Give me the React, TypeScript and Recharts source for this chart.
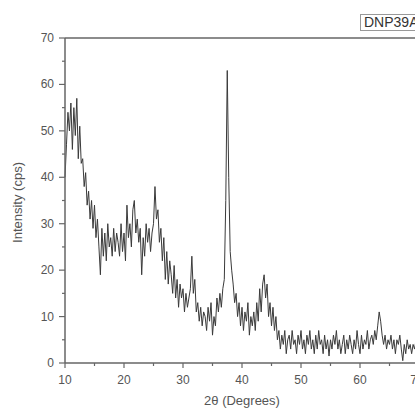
import { LineChart, Line, XAxis, YAxis, ReferenceLine } from "recharts";

// XRD scan, sampled every 0.25 degree from 10 degrees
const startAngle = 10;
const stepAngle = 0.25;

const intensity = [
  40, 47, 54, 50, 56, 46, 55, 49, 57, 44, 51, 43, // 10-12.75
  44, 38, 41, 34, 37, 31, 35, 29, 34, 27, 31, 25, // 13-15.75
  19, 29, 23, 28, 22, 30, 25, 27, 23, 29, 24, 28, // 16-18.75
  26, 23, 30, 24, 28, 22, 34, 27, 30, 25, 33, 35, // 19-21.75
  28, 31, 26, 29, 19, 27, 23, 30, 26, 29, 24, 28, // 22-24.75
  30, 38, 31, 33, 26, 29, 22, 27, 18, 24, 17, 22, // 25-27.75
  19, 15, 21, 14, 18, 12, 17, 14, 16, 11, 15, 12, // 28-30.75
  14, 16, 23, 15, 18, 11, 13, 9, 12, 8, 11, 10, // 31-33.75
  7, 12, 9, 13, 6, 10, 8, 14, 11, 15, 12, 16, // 34-36.75
  18, 35, 63, 40, 24, 20, 17, 13, 15, 10, 13, 8, // 37-39.75
  12, 7, 11, 9, 13, 6, 10, 8, 11, 7, 13, 9, // 40-42.75
  16, 11, 17, 19, 14, 17, 10, 13, 8, 12, 7, 10, // 43-45.75
  5, 7, 3, 6, 4, 7, 2, 5, 6, 3, 7, 4, // 46-48.75
  5, 2, 6, 4, 7, 3, 5, 2, 6, 4, 7, 3, // 49-51.75
  5, 2, 6, 3, 7, 4, 5, 2, 6, 3, 5, 1.5, // 52-54.75
  5, 3, 6, 4, 7, 3, 5, 2, 4, 6, 2, 5, // 55-57.75
  3, 6, 4, 2, 5, 3, 7, 4, 2, 6, 3, 5, // 58-60.75
  4, 7, 3, 5, 6, 4, 7, 5, 8, 11, 9, 6, // 61-63.75
  4, 6, 3, 5, 4, 6, 3, 5, 2, 5, 4, 6, // 64-66.75
  3, 0.5, 4, 2, 5, 3, 4, 2, 4, 3, 5, 3, // 67-69.75
];

const xTicks = [10, 15, 20, 25, 30, 35, 40, 45, 50, 55, 60, 65, 70];
const yTicks = [0, 5, 10, 15, 20, 25, 30, 35, 40, 45, 50, 55, 60, 65, 70];
const sampleName = "DNP39A";

const data = intensity.map((v, i) => ({ angle: startAngle + i * stepAngle, cps: v }));

const font = "'Liberation Sans', Arial, sans-serif";
const axisColor = "#666";
const labelColor = "#555";

function XTick(props: any) {
  const { x, y, payload } = props;
  const major = payload.value % 10 === 0;
  return (
    <g>
      <line x1={x} x2={x} y1={y} y2={y + (major ? 5 : 3)} stroke={axisColor} strokeWidth={1.2} />
      {major && (
        <text x={x} y={y + 21} textAnchor="middle" fontSize={12} fill={labelColor} fontFamily={font}>
          {payload.value}
        </text>
      )}
    </g>
  );
}

function YTick(props: any) {
  const { x, y, payload } = props;
  const major = payload.value % 10 === 0;
  return (
    <g>
      <line x1={x - (major ? 6 : 3)} x2={x} y1={y} y2={y} stroke={axisColor} strokeWidth={1.2} />
      {major && (
        <text x={x - 11} y={y + 4} textAnchor="end" fontSize={12} fill={labelColor} fontFamily={font}>
          {payload.value}
        </text>
      )}
    </g>
  );
}

export default function App() {
  return (
    <div
      style={{
        position: "absolute",
        left: 0,
        top: 0,
        width: 415,
        height: 409,
        overflow: "hidden",
        background: "#fff",
      }}
    >
      <LineChart width={425} height={409} data={data} margin={{ top: 38, right: 6, bottom: 0, left: 0 }}>
        <XAxis
          dataKey="angle"
          type="number"
          domain={[10, 70]}
          ticks={xTicks}
          tick={<XTick />}
          tickSize={0}
          tickMargin={0}
          tickLine={false}
          height={46}
          stroke={axisColor}
          strokeWidth={1.5}
          label={{
            content: ({ viewBox }: any) => (
              <text
                x={viewBox.x + viewBox.width / 2}
                y={viewBox.y + 42}
                textAnchor="middle"
                fontSize={13}
                fill={labelColor}
                fontFamily={font}
              >
                2θ (Degrees)
              </text>
            ),
          }}
        />
        <YAxis
          type="number"
          domain={[0, 70]}
          ticks={yTicks}
          tick={<YTick />}
          tickSize={0}
          tickMargin={0}
          tickLine={false}
          width={65}
          stroke={axisColor}
          strokeWidth={1.5}
          label={{
            content: ({ viewBox }: any) => {
              const cx = 22;
              const cy = viewBox.y + viewBox.height / 2 + 2;
              return (
                <text
                  x={cx}
                  y={cy}
                  transform={`rotate(-90 ${cx} ${cy})`}
                  textAnchor="middle"
                  fontSize={13}
                  fill={labelColor}
                  fontFamily={font}
                >
                  Intensity (cps)
                </text>
              );
            },
          }}
        />
        <ReferenceLine y={70} stroke={axisColor} strokeWidth={1.5} />
        <Line
          type="linear"
          dataKey="cps"
          stroke="#3a3a3a"
          strokeWidth={1}
          dot={false}
          isAnimationActive={false}
        />
      </LineChart>
      <div
        style={{
          position: "absolute",
          left: 360,
          top: 14,
          border: "1px solid #999",
          padding: "0 3px",
          fontSize: 14,
          lineHeight: "15px",
          color: "#333",
          fontFamily: font,
          whiteSpace: "nowrap",
          background: "#fff",
        }}
      >
        {sampleName}
      </div>
    </div>
  );
}
